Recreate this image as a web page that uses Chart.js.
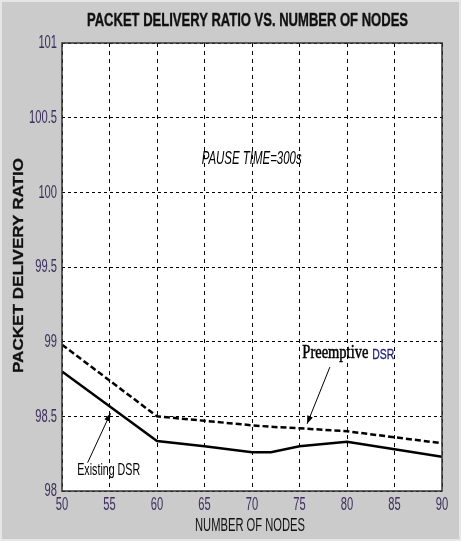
<!DOCTYPE html>
<html><head><meta charset="utf-8">
<script src="https://cdn.jsdelivr.net/npm/chart.js@4/dist/chart.umd.min.js"></script>
<style>html,body{margin:0;padding:0;background:#cbcbcb;}#wrap{width:461px;height:541px;}</style>
</head><body><div id="wrap"><canvas id="c" width="461" height="541"></canvas></div>
<script>
const nodesExisting = [50, 60, 65, 70, 72, 75, 80, 85, 90];
const existingDSR   = [98.80, 98.335, 98.30, 98.26, 98.26, 98.30, 98.33, 98.28, 98.23];
const nodesPreempt  = [50, 60, 65, 70, 72, 75, 80, 85, 90];
const preemptiveDSR = [98.98, 98.50, 98.47, 98.44, 98.43, 98.42, 98.40, 98.36, 98.32];
const xTicks = ['50', '55', '60', '65', '70', '75', '80', '85', '90'];
const yTicks = ['98', '98.5', '99', '99.5', '100', '100.5', '101'];
const titleText = 'PACKET DELIVERY RATIO VS. NUMBER OF NODES';
const xTitle = 'NUMBER OF NODES';
const yTitle = 'PACKET DELIVERY RATIO';
// annotations in data coordinates
const pauseNote = {text: 'PAUSE TIME=300s', x: 64.7, y: 100.22};
const preNote = {text: 'Preemptive', text2: 'DSR', x: 75.3, y: 98.92, from: [78.2, 98.83], to: [75.8, 98.45]};
const exNote = {text: 'Existing DSR', x: 51.6, y: 98.14, from: [52.7, 98.19], to: [55.1, 98.52]};

const SANS = '"Liberation Sans", Arial, sans-serif';
const TICK_COLOR = '#3b2f5c';

// draw text horizontally squeezed/stretched to given width
function fitText(ctx, text, x, y, font, width, align, heavy) {
  ctx.save();
  ctx.font = font;
  const w = ctx.measureText(text).width;
  const s = width / w;
  ctx.textBaseline = 'middle';
  ctx.textAlign = 'left';
  let left = x;
  if (align === 'center') left = x - width / 2;
  else if (align === 'right') left = x - width;
  ctx.translate(left, y);
  ctx.scale(s, 1);
  ctx.fillText(text, 0, 0);
  if (heavy) { ctx.strokeStyle = ctx.fillStyle; ctx.lineWidth = heavy; ctx.strokeText(text, 0, 0); }
  ctx.restore();
}
function narrowText(ctx, text, x, y, font, sx, align) {
  ctx.save();
  ctx.font = font;
  const w = ctx.measureText(text).width * sx;
  fitText(ctx, text, x, y, font, w, align);
  ctx.restore();
}

function arrow(ctx, x1, y1, x2, y2) {
  ctx.save();
  ctx.strokeStyle = '#000'; ctx.fillStyle = '#000'; ctx.lineWidth = 1;
  ctx.beginPath(); ctx.moveTo(x1, y1); ctx.lineTo(x2, y2); ctx.stroke();
  const a = Math.atan2(y2 - y1, x2 - x1), L = 8, w = 3;
  ctx.beginPath();
  ctx.moveTo(x2, y2);
  ctx.lineTo(x2 - L*Math.cos(a) + w*Math.sin(a), y2 - L*Math.sin(a) - w*Math.cos(a));
  ctx.lineTo(x2 - L*Math.cos(a) - w*Math.sin(a), y2 - L*Math.sin(a) + w*Math.cos(a));
  ctx.closePath(); ctx.fill();
  ctx.restore();
}

const deco = {
  id: 'deco',
  beforeDraw(chart) {
    const {ctx, chartArea: a} = chart;
    ctx.save();
    ctx.fillStyle = '#cbcbcb'; ctx.fillRect(0, 0, chart.width, chart.height);
    ctx.strokeStyle = '#e6e6e6'; ctx.lineWidth = 2; ctx.strokeRect(1, 1, chart.width - 2, chart.height - 2);
    ctx.fillStyle = '#ffffff'; ctx.fillRect(a.left, a.top, a.right - a.left, a.bottom - a.top);
    ctx.restore();
  },
  afterDraw(chart) {
    const {ctx, chartArea: a, scales: {x, y}} = chart;
    ctx.save();
    ctx.strokeStyle = '#333'; ctx.lineWidth = 1.5;
    ctx.strokeRect(a.left, a.top, a.right - a.left, a.bottom - a.top);
    // tick labels
    ctx.fillStyle = TICK_COLOR;
    xTicks.forEach(t => narrowText(ctx, t, x.getPixelForValue(parseFloat(t)), a.bottom + 14, '18px ' + SANS, 0.62, 'center'));
    yTicks.forEach(t => narrowText(ctx, t, a.left - 5, y.getPixelForValue(parseFloat(t)) + 0.5, '18px ' + SANS, 0.62, 'right'));
    // title
    ctx.fillStyle = '#111';
    fitText(ctx, titleText, 247.5, 21, 'bold 19px ' + SANS, 321, 'center', 0.4);
    // x title
    fitText(ctx, xTitle, 250, 526, '18px ' + SANS, 110, 'center');
    // y title
    ctx.save();
    ctx.translate(19, 265.5); ctx.rotate(-Math.PI/2);
    fitText(ctx, yTitle, 0, 0, 'bold 14px ' + SANS, 215, 'center', 0.3);
    ctx.restore();
    // annotations
    ctx.fillStyle = '#000';
    fitText(ctx, pauseNote.text, x.getPixelForValue(pauseNote.x), y.getPixelForValue(pauseNote.y), 'italic 18px ' + SANS, 100, 'left');
    const px = x.getPixelForValue(preNote.x), py = y.getPixelForValue(preNote.y);
    fitText(ctx, preNote.text, px, py, '18px "Liberation Serif", "Times New Roman", serif', 66, 'left', 0.5);
    ctx.fillStyle = '#24207a';
    fitText(ctx, preNote.text2, px + 70, py + 1, '15px ' + SANS, 22, 'left', 0.3);
    ctx.fillStyle = '#000';
    fitText(ctx, exNote.text, x.getPixelForValue(exNote.x), y.getPixelForValue(exNote.y), '17px ' + SANS, 63, 'left');
    arrow(ctx, x.getPixelForValue(preNote.from[0]), y.getPixelForValue(preNote.from[1]), x.getPixelForValue(preNote.to[0]), y.getPixelForValue(preNote.to[1]));
    arrow(ctx, x.getPixelForValue(exNote.from[0]), y.getPixelForValue(exNote.from[1]), x.getPixelForValue(exNote.to[0]), y.getPixelForValue(exNote.to[1]));
    ctx.restore();
  }
};

new Chart(document.getElementById('c'), {
  type: 'line',
  data: {
    datasets: [
      {label: 'Existing DSR', data: nodesExisting.map((n, i) => ({x: n, y: existingDSR[i]})), borderColor: '#000', borderWidth: 2.5, pointRadius: 0, tension: 0, fill: false},
      {label: 'Preemptive DSR', data: nodesPreempt.map((n, i) => ({x: n, y: preemptiveDSR[i]})), borderColor: '#000', borderWidth: 2.5, borderDash: [6, 3], pointRadius: 0, tension: 0, fill: false}
    ]
  },
  options: {
    responsive: false, animation: false, devicePixelRatio: 1,
    layout: {padding: {top: 43, right: 19, left: 0, bottom: 0}},
    plugins: {legend: {display: false}, title: {display: false}, tooltip: {enabled: false}},
    scales: {
      x: {
        type: 'linear', min: 50, max: 90,
        afterBuildTicks(s) { s.ticks = xTicks.map(v => ({value: parseFloat(v)})); },
        afterFit(s) { s.height = 50; },
        ticks: {display: false},
        grid: {color: '#000', lineWidth: 1, drawTicks: false},
        border: {display: false, dash: [4, 4]}
      },
      y: {
        type: 'linear', min: 98, max: 101,
        afterBuildTicks(s) { s.ticks = yTicks.map(v => ({value: parseFloat(v)})); },
        afterFit(s) { s.width = 62; },
        ticks: {display: false},
        grid: {color: '#000', lineWidth: 1, drawTicks: false},
        border: {display: false, dash: [3, 3]}
      }
    }
  },
  plugins: [deco]
});
</script></body></html>
